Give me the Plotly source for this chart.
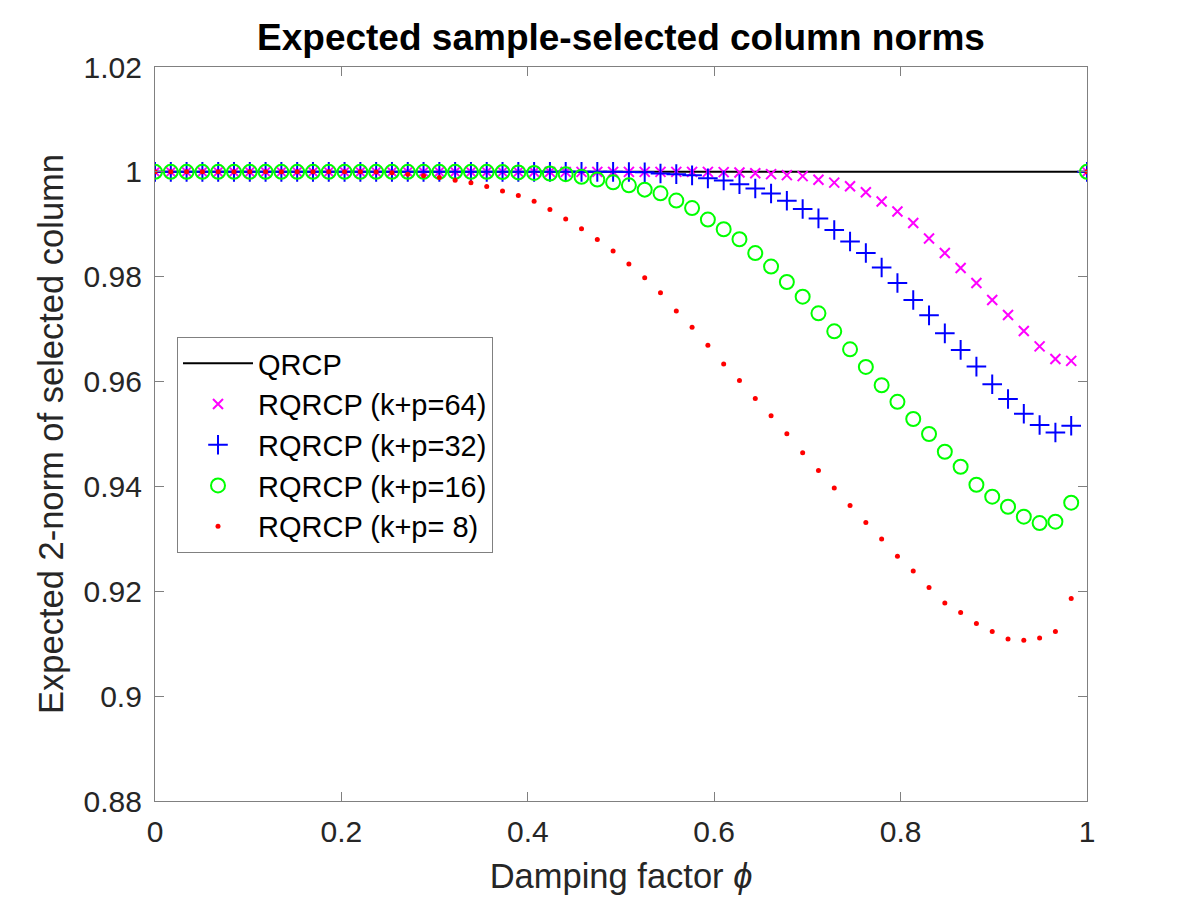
import plotly.graph_objects as go

# damping factor phi (60 samples from 0 to 1)
phi = [
    0.0, 0.016949, 0.033898, 0.050847, 0.067797, 0.084746, 0.101695, 0.118644, 0.135593, 0.152542,
    0.169492, 0.186441, 0.203390, 0.220339, 0.237288, 0.254237, 0.271186, 0.288136, 0.305085, 0.322034,
    0.338983, 0.355932, 0.372881, 0.389831, 0.406780, 0.423729, 0.440678, 0.457627, 0.474576, 0.491525,
    0.508475, 0.525424, 0.542373, 0.559322, 0.576271, 0.593220, 0.610169, 0.627119, 0.644068, 0.661017,
    0.677966, 0.694915, 0.711864, 0.728814, 0.745763, 0.762712, 0.779661, 0.796610, 0.813559, 0.830508,
    0.847458, 0.864407, 0.881356, 0.898305, 0.915254, 0.932203, 0.949153, 0.966102, 0.983051, 1.0,
]

qrcp = [
    1.0, 1.0, 1.0, 1.0, 1.0, 1.0, 1.0, 1.0, 1.0, 1.0,
    1.0, 1.0, 1.0, 1.0, 1.0, 1.0, 1.0, 1.0, 1.0, 1.0,
    1.0, 1.0, 1.0, 1.0, 1.0, 1.0, 1.0, 1.0, 1.0, 1.0,
    1.0, 1.0, 1.0, 1.0, 1.0, 1.0, 1.0, 1.0, 1.0, 1.0,
    1.0, 1.0, 1.0, 1.0, 1.0, 1.0, 1.0, 1.0, 1.0, 1.0,
    1.0, 1.0, 1.0, 1.0, 1.0, 1.0, 1.0, 1.0, 1.0, 1.0,
]

rqrcp_64 = [
    1.0, 1.0, 1.0, 1.0, 1.0, 1.0, 1.0, 1.0, 1.0, 1.0,
    1.0, 1.0, 1.0, 1.0, 1.0, 1.0, 1.0, 1.0, 1.0, 1.0,
    1.0, 1.0, 1.0, 1.0, 1.0, 1.0, 1.0, 1.0, 1.0, 1.0,
    1.0, 1.0, 1.0, 1.0, 1.0, 1.0, 0.99995, 0.99988, 0.99975, 0.99956,
    0.99937, 0.99918, 0.99851, 0.99794, 0.99724, 0.99610, 0.99434, 0.99244, 0.99023, 0.98730,
    0.98451, 0.98166, 0.97880, 0.97556, 0.97270, 0.96966, 0.96672, 0.96432, 0.96394, 1.0,
]

rqrcp_32 = [
    1.0, 1.0, 1.0, 1.0, 1.0, 1.0, 1.0, 1.0, 1.0, 1.0,
    1.0, 1.0, 1.0, 1.0, 1.0, 1.0, 1.0, 1.0, 1.0, 1.0,
    1.0, 1.0, 1.0, 1.0, 1.0, 1.0, 1.0, 1.0, 1.0, 1.0,
    0.99998, 0.99993, 0.99968, 0.99956, 0.99933, 0.99876, 0.99834, 0.99766, 0.99682, 0.99587,
    0.99448, 0.99291, 0.99112, 0.98890, 0.98672, 0.98451, 0.98177, 0.97880, 0.97556, 0.97263,
    0.96920, 0.96604, 0.96286, 0.95949, 0.95667, 0.95385, 0.95171, 0.95029, 0.95158, 1.0,
]

rqrcp_16 = [
    1.0, 1.0, 1.0, 1.0, 1.0, 1.0, 1.0, 1.0, 1.0, 1.0,
    1.0, 1.0, 1.0, 1.0, 1.0, 1.0, 1.0, 1.0, 1.0, 1.0,
    1.0, 1.0, 0.99995, 0.99990, 0.99980, 0.99968, 0.99956, 0.99905, 0.99853, 0.99800,
    0.99743, 0.99661, 0.99590, 0.99453, 0.99309, 0.99090, 0.98905, 0.98714, 0.98451, 0.98194,
    0.97899, 0.97619, 0.97301, 0.96958, 0.96615, 0.96280, 0.95930, 0.95613, 0.95286, 0.95000,
    0.94661, 0.94375, 0.94032, 0.93804, 0.93613, 0.93423, 0.93301, 0.93328, 0.93690, 1.0,
]

rqrcp_8 = [
    1.0, 1.0, 1.0, 1.0, 1.0, 1.0, 1.0, 1.0, 1.0, 1.0,
    1.0, 1.0, 1.0, 1.0, 0.99995, 0.99985, 0.99956, 0.99924, 0.99891, 0.99838,
    0.99790, 0.99720, 0.99634, 0.99549, 0.99438, 0.99282, 0.99099, 0.98914, 0.98710, 0.98490,
    0.98242, 0.97981, 0.97695, 0.97347, 0.97034, 0.96691, 0.96337, 0.96019, 0.95676, 0.95347,
    0.95004, 0.94642, 0.94305, 0.93968, 0.93638, 0.93310, 0.92996, 0.92667, 0.92387, 0.92070,
    0.91777, 0.91594, 0.91385, 0.91232, 0.91091, 0.91067, 0.91110, 0.91232, 0.91861, 1.0,
]

x_ticks = [0, 0.2, 0.4, 0.6, 0.8, 1]
x_ticktext = ["0", "0.2", "0.4", "0.6", "0.8", "1"]
y_ticks = [0.88, 0.90, 0.92, 0.94, 0.96, 0.98, 1.00, 1.02]
y_ticktext = ["0.88", "0.9", "0.92", "0.94", "0.96", "0.98", "1", "1.02"]

FONT = "Liberation Sans, Arial, Helvetica, sans-serif"
AX_GRAY = "#808080"
TXT = "#262626"

# page body has an 8px margin, so the figure is sized to fit the 1200x900 window
W, H = 1192, 892

fig = go.Figure()

fig.add_trace(go.Scatter(
    x=phi, y=qrcp, mode="lines", name="QRCP",
    line=dict(color="black", width=2),
))
fig.add_trace(go.Scatter(
    x=phi, y=rqrcp_64, mode="markers", name="RQRCP (k+p=64)",
    marker=dict(symbol="x-thin", size=10, color="#ff00ff",
                line=dict(color="#ff00ff", width=2)),
))
fig.add_trace(go.Scatter(
    x=phi, y=rqrcp_32, mode="markers", name="RQRCP (k+p=32)",
    marker=dict(symbol="cross-thin", size=14, color="#0000ff",
                line=dict(color="#0000ff", width=2)),
))
fig.add_trace(go.Scatter(
    x=phi, y=rqrcp_16, mode="markers", name="RQRCP (k+p=16)",
    marker=dict(symbol="circle-open", size=14, color="#00ff00",
                line=dict(color="#00ff00", width=2)),
))
fig.add_trace(go.Scatter(
    x=phi, y=rqrcp_8, mode="markers", name="RQRCP (k+p= 8)",
    marker=dict(symbol="circle", size=5, color="#ff0000"),
))

axis_common = dict(
    showgrid=False, zeroline=False,
    showline=True, linecolor=AX_GRAY, linewidth=1.3, mirror="ticks",
    ticks="inside", ticklen=9, tickwidth=1.3, tickcolor=AX_GRAY,
    tickfont=dict(family=FONT, size=30, color=TXT),
)

fig.update_layout(
    width=W, height=H,
    margin=dict(l=147, r=113, t=59, b=99),
    paper_bgcolor="white", plot_bgcolor="white",
    font=dict(family=FONT, color=TXT),
    title=dict(
        text="<b>Expected sample-selected column norms</b>",
        font=dict(family=FONT, size=37, color="black"),
        x=0.5, xref="paper", xanchor="center",
        y=1 - 29 / H, yref="container", yanchor="middle",
    ),
    xaxis=dict(
        range=[0, 1], tickvals=x_ticks, ticktext=x_ticktext,
        ticklabelstandoff=4,
        title=dict(text="Damping factor <i>ϕ</i>", standoff=16,
                   font=dict(family=FONT, size=34.5, color=TXT)),
        **axis_common,
    ),
    yaxis=dict(
        range=[0.88, 1.02], tickvals=y_ticks, ticktext=y_ticktext,
        ticklabelstandoff=6,
        title=dict(text="Expected 2-norm of selected column", standoff=9,
                   font=dict(family=FONT, size=34.5, color=TXT)),
        **axis_common,
    ),
    legend=dict(
        x=22 / 932, y=(793 - 329) / 734, xanchor="left", yanchor="top",
        bgcolor="white", bordercolor=AX_GRAY, borderwidth=1,
        font=dict(family=FONT, size=29, color="black"),
        itemwidth=70, tracegroupgap=0,
    ),
    showlegend=True,
)

fig.write_html("out.html")
